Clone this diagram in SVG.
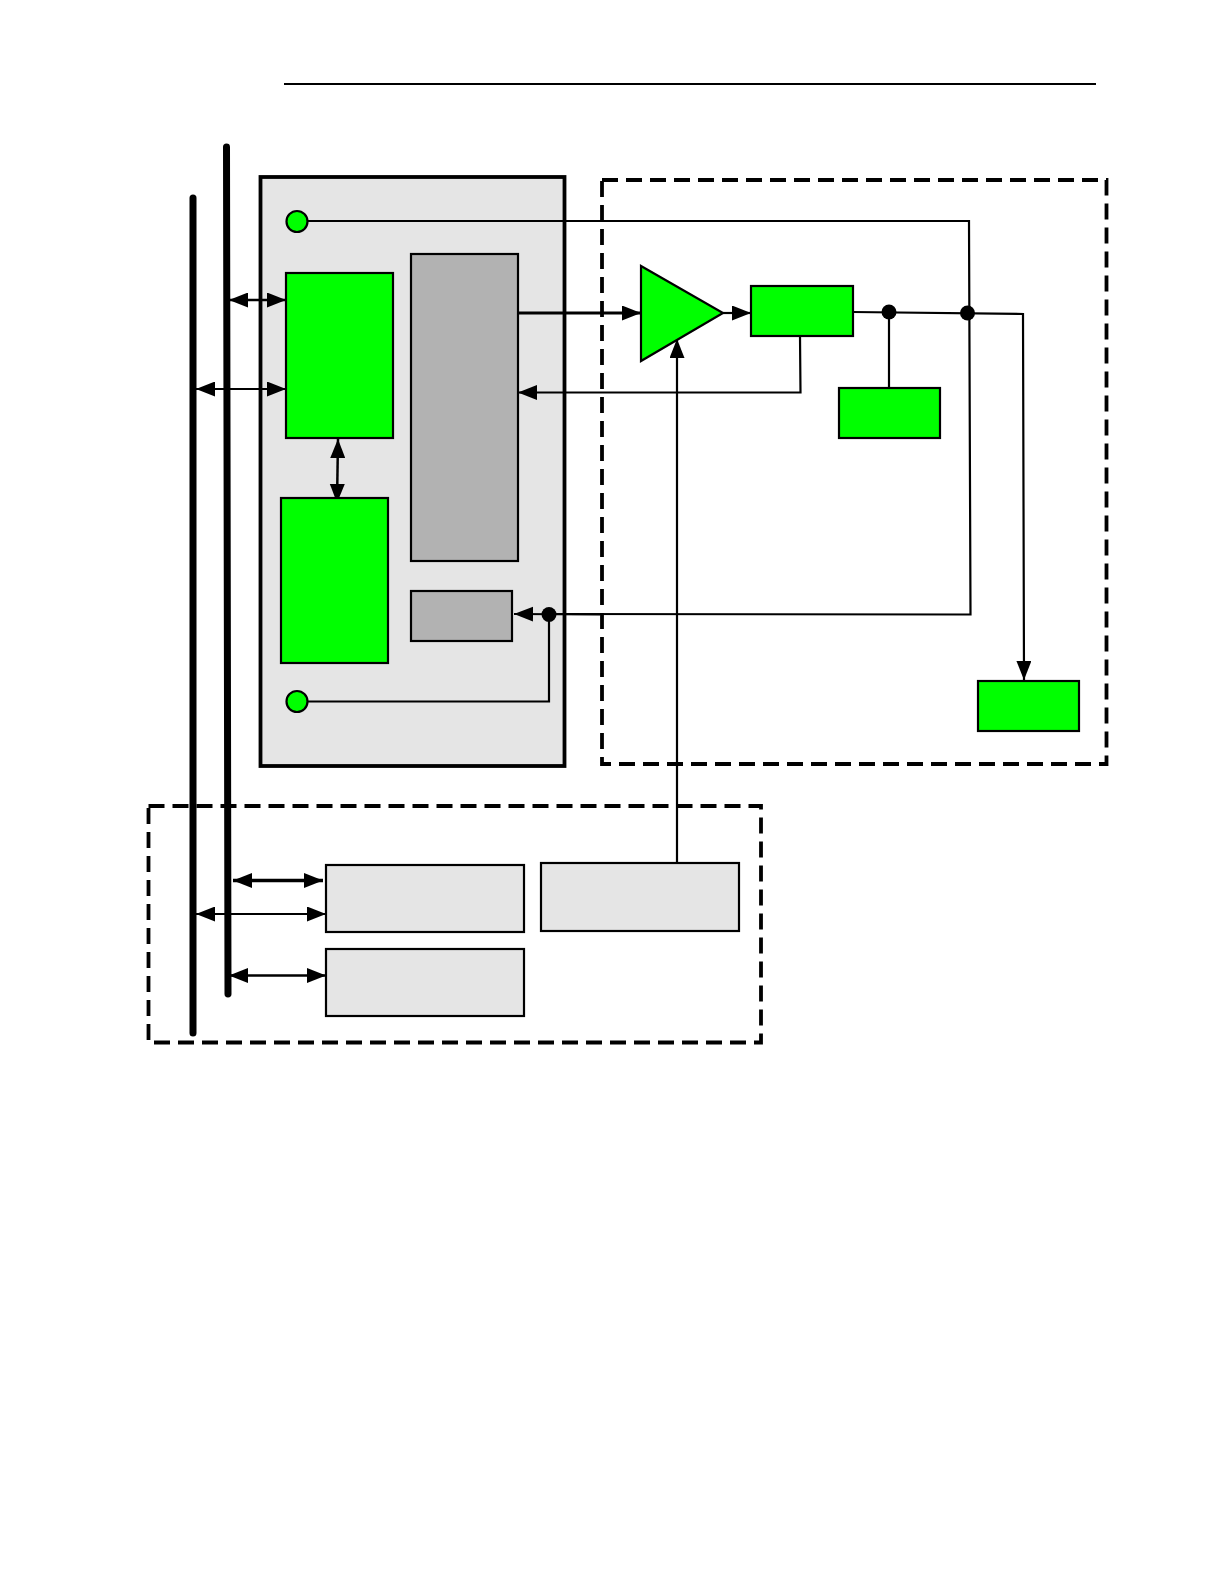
<svg xmlns="http://www.w3.org/2000/svg" width="1224" height="1584" viewBox="0 0 1224 1584">
<style>
.g{fill:#00ff00;stroke:#000;stroke-width:2.2}
.m{fill:#b2b2b2;stroke:#000;stroke-width:2.2}
.l{fill:#e5e5e5;stroke:#000;stroke-width:2.2}
.d{fill:none;stroke:#000;stroke-width:3.8;stroke-dasharray:16 8}
.c{fill:none;stroke:#000;stroke-width:2.2}
.b{fill:none;stroke:#000;stroke-width:7;stroke-linecap:round}
.a{marker-end:url(#h)}
.x{marker-start:url(#hs);marker-end:url(#h)}
</style>
<defs>
<marker id="h" markerUnits="userSpaceOnUse" markerWidth="21" markerHeight="17" refX="19" refY="7.500" orient="auto"><path d="M0 0L19 7.500L0 15Z" fill="#000"/></marker>
<marker id="hs" markerUnits="userSpaceOnUse" markerWidth="21" markerHeight="17" refX="0" refY="7.500" orient="auto"><path d="M19 0L0 7.500L19 15Z" fill="#000"/></marker>
</defs>
<rect width="1224" height="1584" fill="#fff"/>
<path id="header-rule" class="c" d="M284 84H1096"/>
<g id="module"><rect x="260.500" y="177" width="304" height="589" fill="#e5e5e5" stroke="#000" stroke-width="3.800"/></g>
<g id="amp-region"><rect class="d" x="602" y="180" width="504.500" height="584"/></g>
<g id="bottom-region"><rect class="d" x="148.500" y="806" width="612.500" height="236.500"/></g>
<g id="bus-a"><path class="b" d="M193 198V1033"/></g>
<g id="bus-b"><path class="b" d="M226.500 147L228 994"/></g>
<g id="connectors">
<path class="c" d="M307 221H969L970.500 614.500L549 614"/>
<path class="a" d="M600 614.500L514 614" stroke="#000" stroke-width="2.200"/>
<path class="c" d="M307 701.500H549V614.500"/>
<path class="a" d="M518 313H641" stroke="#000" stroke-width="3" fill="none"/>
<path class="a" d="M723 313H751" stroke="#000" stroke-width="2.200" fill="none"/>
<path class="a" d="M853 312L1023 314L1024 680" stroke="#000" stroke-width="2.200" fill="none"/>
<path class="c" d="M889 312V388"/>
<path class="a" d="M800 336L800.500 392.500L518 392.500" stroke="#000" stroke-width="2.200" fill="none"/>
<path class="a" d="M677 862V339" stroke="#000" stroke-width="2.200" fill="none"/>
<path class="x" d="M229 300H286" stroke="#000" stroke-width="2.500" fill="none"/>
<path class="x" d="M196 389H286" stroke="#000" stroke-width="2.200" fill="none"/>
<path class="x" d="M338 439L337 503" stroke="#000" stroke-width="2.500" fill="none"/>
<path class="x" d="M233 880.500H323" stroke="#000" stroke-width="3.500" fill="none"/>
<path class="x" d="M196 914H326" stroke="#000" stroke-width="2.200" fill="none"/>
<path class="x" d="M229 975.500H326" stroke="#000" stroke-width="2.500" fill="none"/>
<circle cx="889" cy="312" r="7.500"/>
<circle cx="967.500" cy="313" r="7.500"/>
<circle cx="549" cy="614.500" r="7.500"/>
</g>
<g id="port-top"><circle class="g" cx="297" cy="221.500" r="10.500"/></g>
<g id="port-bottom"><circle class="g" cx="297" cy="701.500" r="10.500"/></g>
<g id="green-a"><rect class="g" x="286" y="273" width="107" height="165"/></g>
<g id="green-b"><rect class="g" x="281" y="498" width="107" height="165"/></g>
<g id="grey-a"><rect class="m" x="411" y="254" width="107" height="307"/></g>
<g id="grey-b"><rect class="m" x="411" y="591" width="101" height="50"/></g>
<g id="amp"><path class="g" d="M641 266L723 313L641 361Z"/></g>
<g id="green-c"><rect class="g" x="751" y="286" width="102" height="50"/></g>
<g id="green-d"><rect class="g" x="839" y="388" width="101" height="50"/></g>
<g id="green-e"><rect class="g" x="978" y="681" width="101" height="50"/></g>
<g id="light-a"><rect class="l" x="326" y="865" width="198" height="67"/></g>
<g id="light-b"><rect class="l" x="326" y="949" width="198" height="67"/></g>
<g id="light-c"><rect class="l" x="541" y="863" width="198" height="68"/></g>
</svg>
